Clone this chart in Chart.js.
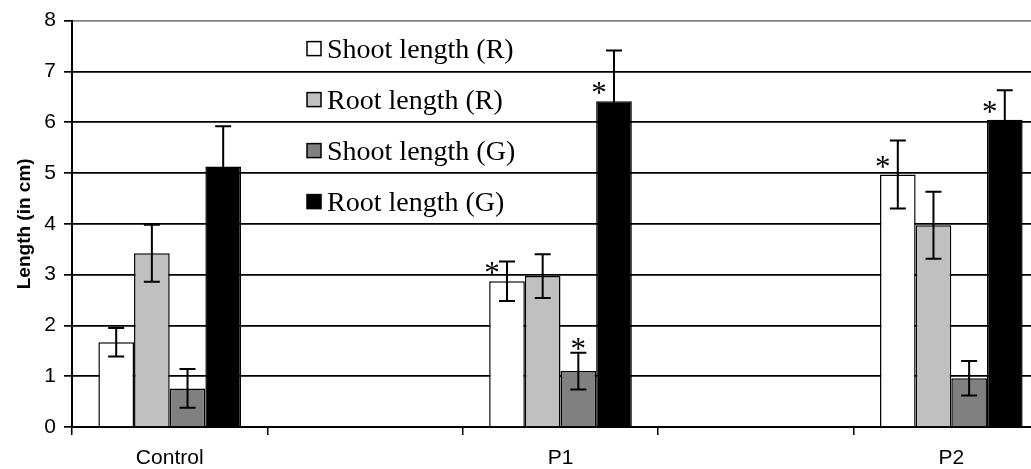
<!DOCTYPE html>
<html>
<head>
<meta charset="utf-8">
<script src="https://cdn.jsdelivr.net/npm/chart.js@4.4.1/dist/chart.umd.min.js"></script>
<style>
	html, body { margin: 0; padding: 0; background: #fff; overflow: hidden; }
	#chart { display: block; }
</style>
</head>
<body>
<canvas id="chart" width="1060" height="469"></canvas>
<script>
// categories (the empty ones are spacer categories in the original chart)
var labels = ["Control", "", "P1", "", "P2"];

var seriesNames = ["Shoot length (R)", "Root length (R)", "Shoot length (G)", "Root length (G)"];

// mean values
var shootR = [1.67, null, 2.87, null, 4.97];
var rootR = [3.42, null, 2.97, null, 3.97];
var shootG = [0.76, null, 1.10, null, 0.96];
var rootG = [5.13, null, 6.41, null, 6.05];

// error (+/-)
var shootRErr = [0.28, null, 0.39, null, 0.67];
var rootRErr = [0.56, null, 0.43, null, 0.66];
var shootGErr = [0.38, null, 0.36, null, 0.34];
var rootGErr = [0.79, null, 1.00, null, 0.58];

// significance marks: "" none, "left" beside the error bar, "top" above the cap
var shootRStar = ["", "", "left", "", "left"];
var rootRStar = ["", "", "", "", ""];
var shootGStar = ["", "", "top", "", ""];
var rootGStar = ["", "", "left", "", "left"];

var yTicks = [0, 1, 2, 3, 4, 5, 6, 7, 8];

var colors = ["#ffffff", "#c0c0c0", "#808080", "#000000"];

var errors = [shootRErr, rootRErr, shootGErr, rootGErr];
var stars = [shootRStar, rootRStar, shootGStar, rootGStar];

//error bars and asterisks
var errorBarPlugin = {
	id: "errorBars",
	afterDatasetsDraw: function (chart) {
		var ctx = chart.ctx;
		var y = chart.scales.y;
		ctx.save();
		ctx.strokeStyle = "#000";
		ctx.lineWidth = 2;
		for (var i = 0; i < chart.data.datasets.length; i++) {
			var meta = chart.getDatasetMeta(i);
			var data = chart.data.datasets[i].data;
			for (var j = 0; j < data.length; j++) {
				if (data[j] === null) continue;
				var el = meta.data[j];
				var e = errors[i][j];
				var top = y.getPixelForValue(data[j] + e);
				var bot = y.getPixelForValue(data[j] - e);
				ctx.beginPath();
				ctx.moveTo(el.x, top);
				ctx.lineTo(el.x, bot);
				ctx.moveTo(el.x - 8, top);
				ctx.lineTo(el.x + 8, top);
				ctx.moveTo(el.x - 8, bot);
				ctx.lineTo(el.x + 8, bot);
				ctx.stroke();

				var s = stars[i][j];
				if (s) {
					ctx.fillStyle = "#000";
					ctx.font = '31px "Liberation Serif"';
					ctx.textAlign = "center";
					ctx.textBaseline = "alphabetic";
					if (s === "left") {
						ctx.fillText("*", el.x - 15, el.y + 2);
					} else {
						ctx.fillText("*", el.x, top + 6);
					}
				}
			}
		}
		ctx.restore();
	}
};

//legend drawn inside the plot area
var legendPlugin = {
	id: "innerLegend",
	afterDraw: function (chart) {
		var ctx = chart.ctx;
		var area = chart.chartArea;
		ctx.save();
		ctx.font = '28px "Liberation Serif"';
		ctx.textBaseline = "middle";
		ctx.textAlign = "left";
		for (var i = 0; i < chart.data.datasets.length; i++) {
			var ds = chart.data.datasets[i];
			var cy = area.top + 30 + i * 51;
			var bx = area.left + 235;
			ctx.fillStyle = ds.backgroundColor;
			ctx.fillRect(bx, cy - 9, 14, 14);
			ctx.strokeStyle = "#000";
			ctx.lineWidth = 1.5;
			ctx.strokeRect(bx, cy - 9, 14, 14);
			ctx.fillStyle = "#000";
			ctx.fillText(ds.label, bx + 20, cy);
		}
		ctx.restore();
	}
};

var datasets = [shootR, rootR, shootG, rootG].map(function (d, i) {
	return {
		label: seriesNames[i],
		data: d,
		backgroundColor: colors[i],
		borderColor: "#000",
		borderWidth: 1.5,
		categoryPercentage: 0.73,
		barPercentage: 1.0
	};
});

var config = {
	type: "bar",
	data: { labels: labels, datasets: datasets },
	options: {
		responsive: false,
		animation: false,
		layout: { padding: { top: 20, right: 11, left: 0, bottom: 0 } },
		plugins: {
			legend: { display: false },
			tooltip: { enabled: false }
		},
		scales: {
			x: {
				grid: {
					offset: true,
					drawOnChartArea: false,
					drawTicks: true,
					tickLength: 8,
					color: "#000",
					lineWidth: 1.5
				},
				border: { color: "#000", width: 2 },
				ticks: {
					autoSkip: false,
					maxRotation: 0,
					padding: 11,
					color: "#000",
					font: { family: "Arial, 'Liberation Sans'", size: 21 }
				},
				afterFit: function (scale) { scale.height = 42; }
			},
			y: {
				min: 0,
				max: 8,
				afterBuildTicks: function (scale) {
					scale.ticks = yTicks.map(function (v) { return { value: v }; });
				},
				grid: {
					color: function (c) { return c.tick && c.tick.value === 8 ? "#808080" : "#000"; },
					lineWidth: 1.7,
					tickLength: 8,
					tickColor: "#000"
				},
				border: { color: "#000", width: 2 },
				ticks: {
					padding: 8,
					color: "#000",
					font: { family: "Arial, 'Liberation Sans'", size: 21 }
				},
				title: {
					display: true,
					text: "Length (in cm)",
					color: "#000",
					font: { family: "Arial, 'Liberation Sans'", size: 19, weight: "bold" },
					padding: { top: 13, bottom: 0 }
				},
				afterFit: function (scale) { scale.width = 72; }
			}
		}
	},
	plugins: [errorBarPlugin, legendPlugin]
};

var myChart = new Chart(document.getElementById("chart"), config);
</script>
</body>
</html>
